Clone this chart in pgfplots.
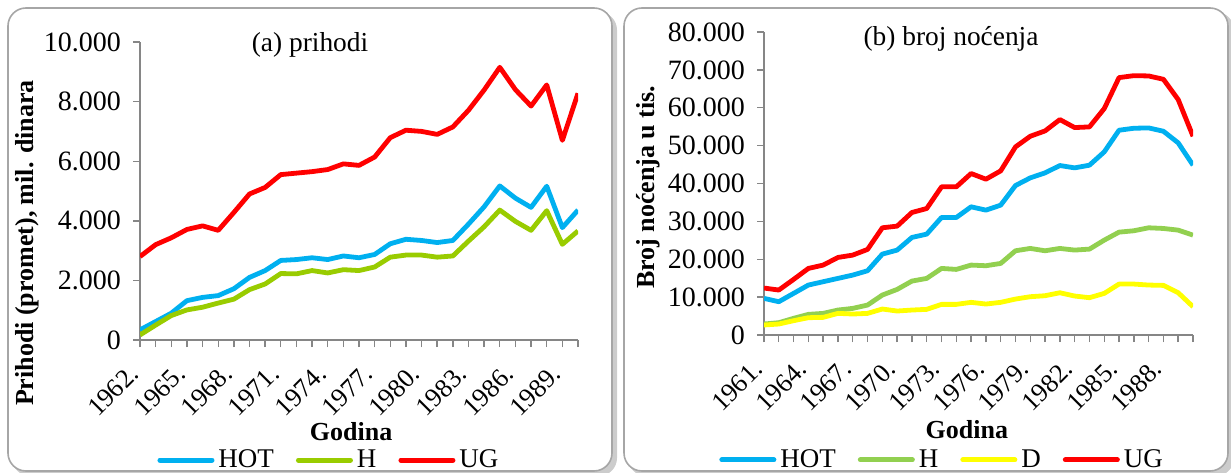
\documentclass[border=0pt]{standalone}
\usepackage{pgfplots}
\usepackage{pgfplotstable}
\pgfplotsset{compat=1.18}
\usepackage{fontspec}
\setmainfont{Liberation Serif}

\definecolor{cHOT}{HTML}{00B0F0}
\definecolor{cHa}{HTML}{99CC00}
\definecolor{cHb}{HTML}{92D050}
\definecolor{cD}{HTML}{FFFF00}
\definecolor{cUG}{HTML}{FF0000}
\definecolor{axgray}{HTML}{868686}

\pgfplotstableread{
year HOT H UG
1962 340 170 2800
1963 620 500 3200
1964 900 820 3430
1965 1320 1010 3710
1966 1430 1100 3830
1967 1490 1240 3680
1968 1720 1370 4280
1969 2100 1690 4900
1970 2330 1880 5120
1971 2670 2230 5550
1972 2700 2220 5600
1973 2760 2330 5650
1974 2700 2250 5720
1975 2820 2360 5910
1976 2760 2330 5860
1977 2870 2450 6140
1978 3230 2780 6790
1979 3380 2850 7040
1980 3340 2850 7000
1981 3270 2780 6900
1982 3340 2820 7150
1983 3890 3320 7710
1984 4470 3800 8390
1985 5170 4360 9150
1986 4760 3980 8400
1987 4450 3680 7850
1988 5160 4340 8560
1989 3770 3210 6700
1990 4360 3660 8280
}\prihodi

\pgfplotstableread{
year HOT H D UG
1961 9670 2900 2640 12400
1962 8790 3250 2900 11870
1963 10990 4400 3780 14680
1964 13190 5450 4570 17580
1965 14070 5710 4660 18460
1966 14950 6590 5710 20480
1967 15820 7030 5540 21100
1968 16970 7910 5710 22600
1969 21360 10550 6860 28310
1970 22420 12040 6330 28750
1971 25760 14240 6590 32350
1972 26640 14950 6770 33400
1973 31030 17580 8090 39120
1974 31030 17320 8090 39120
1975 33850 18460 8620 42640
1976 32970 18290 8180 41140
1977 34290 18900 8620 43340
1978 39470 22240 9490 49670
1979 41490 22860 10110 52480
1980 42810 22240 10370 53890
1981 44750 22860 11160 56880
1982 44130 22420 10290 54770
1983 44840 22680 9850 54950
1984 48350 25050 10990 59780
1985 54070 27160 13450 67960
1986 54590 27520 13450 68480
1987 54680 28310 13190 68400
1988 53800 28130 13100 67520
1989 50730 27690 11160 62150
1990 44840 26370 7470 52480
}\nocenja

\pgfplotsset{
  panel/.style={
    scale only axis,
    axis x line*=bottom, axis y line*=left,
    axis line style={draw=axgray, line width=0.7pt},
    every tick/.style={draw=axgray, line width=0.7pt},
    tick align=outside,
    major tick length=3.5pt, minor tick length=3.5pt,
    scaled y ticks=false,
    ticklabel style={font=\fontsize{14}{16}\selectfont},
    y tick label style={xshift=-2.5pt, /pgf/number format/.cd, 1000 sep={.}, assume math mode=true},
    x tick label style={font=\fontsize{13.2}{15}\selectfont, xshift=0.5pt, yshift=-14pt, rotate=45, anchor=base east, inner sep=0.5pt},
    label style={font=\fontsize{13}{15}\selectfont\bfseries},
    legend style={draw=none, fill=none, legend columns=-1, anchor=west, inner sep=0pt,
      font=\fontsize{13.5}{15}\selectfont,
      /tikz/every even column/.append style={column sep=9pt}},
    legend cell align=left,
    legend image code/.code={\draw[#1, line width=2.5pt, line cap=round] (0pt,0pt) -- (26pt,0pt);},
    every axis plot/.append style={line width=2.4pt, line join=round, no markers},
  },
}

\begin{document}
\begin{tikzpicture}
\path[use as bounding box] (0,0) rectangle (615.5pt,236pt);
% panels
\fill[gray!40, rounded corners=9pt] (6pt,-2pt) rectangle (308.5pt,230pt);
\draw[gray!70, line width=0.8pt, fill=white, rounded corners=9pt] (4pt,0.5pt) rectangle (306pt,232pt);
\fill[gray!40, rounded corners=9pt] (314pt,-2pt) rectangle (617pt,230pt);
\draw[gray!70, line width=0.8pt, fill=white, rounded corners=9pt] (312pt,0.5pt) rectangle (614pt,232pt);

\begin{axis}[panel,
  at={(70pt,66pt)}, anchor=south west,
  width=219pt, height=149pt,
  xmin=1962, xmax=1990, ymin=0, ymax=10000,
  ytick={0,2000,...,10000},
  xtick={1962,1965,...,1989},
  xticklabels={1962.,1965.,1968.,1971.,1974.,1977.,1980.,1983.,1986.,1989.},
  minor xtick={1962,...,1990},
  xlabel={Godina}, ylabel={Prihodi (promet), mil. dinara},
  xlabel style={at={(axis description cs:0.482,-0.309)}, anchor=center},
  ylabel style={at={(axis description cs:-0.258,0.3255)}, anchor=center},
  legend style={at={(axis description cs:0.039,-0.403)}},
]
\addplot[cHOT] table[x=year, y=HOT] {\prihodi};
\addplot[cHa] table[x=year, y=H] {\prihodi};
\addplot[cUG] table[x=year, y=UG] {\prihodi};
\legend{HOT,H,UG}
\end{axis}

\begin{axis}[panel,
  at={(382pt,68.5pt)}, anchor=south west,
  width=214.5pt, height=151.5pt,
  xmin=1961, xmax=1990, ymin=0, ymax=80000,
  ytick={0,10000,...,80000},
  xtick={1961,1964,...,1988},
  xticklabels={1961.,1964.,1967.,1970.,1973.,1976.,1979.,1982.,1985.,1988.},
  minor xtick={1961,...,1990},
  xlabel={Godina}, ylabel={Broj noćenja u tis.},
  xlabel style={at={(axis description cs:0.473,-0.3135)}, anchor=center},
  ylabel style={at={(axis description cs:-0.270,0.488)}, anchor=center},
  legend style={at={(axis description cs:-0.105,-0.4125)}},
]
\addplot[cHOT] table[x=year, y=HOT] {\nocenja};
\addplot[cHb] table[x=year, y=H] {\nocenja};
\addplot[cD] table[x=year, y=D] {\nocenja};
\addplot[cUG] table[x=year, y=UG] {\nocenja};
\legend{HOT,H,D,UG}
\end{axis}

\node[font=\fontsize{13.7}{15}\selectfont] at (155pt,213.5pt) {(a) prihodi};
\node[font=\fontsize{13.7}{15}\selectfont] at (475.5pt,216.5pt) {(b) broj noćenja};
\end{tikzpicture}
\end{document}
